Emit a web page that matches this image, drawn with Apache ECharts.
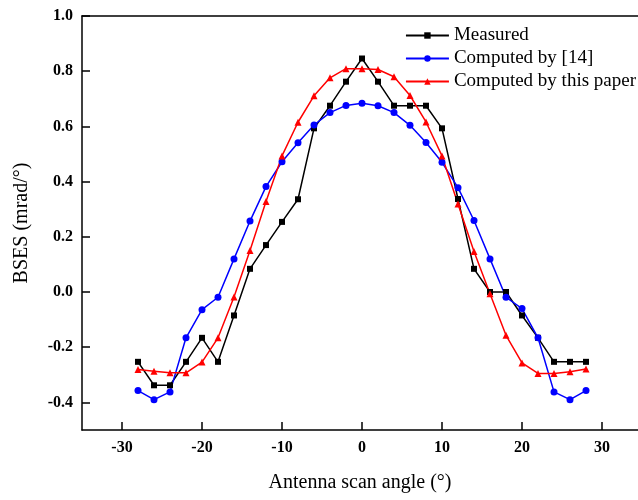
<!DOCTYPE html>
<html><head><meta charset="utf-8">
<script src="https://cdn.jsdelivr.net/npm/echarts@6/dist/echarts.min.js"></script>
<style>html,body{margin:0;padding:0;background:#fff}#c{width:638px;height:500px}</style>
</head><body><div id="c"></div>
<script>
const angles = [-28,-26,-24,-22,-20,-18,-16,-14,-12,-10,-8,-6,-4,-2,0,2,4,6,8,10,12,14,16,18,20,22,24,26,28];
const measured = [-0.253,-0.338,-0.338,-0.253,-0.166,-0.253,-0.085,0.084,0.170,0.254,0.336,0.593,0.675,0.762,0.846,0.762,0.675,0.675,0.675,0.593,0.337,0.084,0.0,0.0,-0.085,-0.166,-0.253,-0.253,-0.253];
const computed14 = [-0.357,-0.390,-0.362,-0.166,-0.064,-0.019,0.120,0.257,0.382,0.472,0.541,0.605,0.650,0.676,0.684,0.675,0.650,0.604,0.542,0.470,0.378,0.259,0.120,-0.019,-0.060,-0.166,-0.362,-0.390,-0.357];
const computedPaper = [-0.281,-0.287,-0.293,-0.293,-0.254,-0.166,-0.018,0.150,0.328,0.493,0.615,0.711,0.776,0.809,0.809,0.806,0.780,0.712,0.616,0.493,0.319,0.147,-0.006,-0.157,-0.257,-0.295,-0.295,-0.289,-0.279];
const xTicks = [-30,-20,-10,0,10,20,30];
const yTicks = [-0.4,-0.2,0.0,0.2,0.4,0.6,0.8,1.0];
const seriesNames = ['Measured','Computed by [14]','Computed by this paper'];

const serif = '"Liberation Serif","Times New Roman",serif';
const pair = arr => angles.map((a,i)=>[a,arr[i]]);
const chart = echarts.init(document.getElementById('c'));
const mk = (name, data, color, symbol, size) => ({
  name, type:'line', data: pair(data), symbol, symbolSize:size, xAxisIndex:0, yAxisIndex:0,
  lineStyle:{color, width:1.5}, itemStyle:{color}, animation:false
});
chart.setOption({
  animation:false,
  grid:{left:82, top:16, right:0, bottom:70, show:false},
  legend:{
    orient:'vertical', right:-3, top:21, itemWidth:43, itemHeight:8, itemGap:4,
    textStyle:{fontFamily:serif, fontSize:19, color:'#000'},
    data: seriesNames
  },
  xAxis:[{
    type:'value', min:-35, max:34.5, position:'bottom',
    name:'Antenna scan angle (°)', nameLocation:'middle', nameGap:43,
    nameTextStyle:{fontFamily:serif, fontSize:20, color:'#000'},
    axisLine:{show:true, onZero:true, onZeroAxisIndex:1, lineStyle:{color:'#000', width:1.5}},
    axisTick:{show:true, inside:true, length:8, customValues:xTicks, lineStyle:{color:'#000', width:1.5}},
    axisLabel:{customValues:xTicks, fontFamily:serif, fontWeight:'bold', fontSize:16, color:'#000', margin:10},
    splitLine:{show:false}
  },{
    type:'value', min:0, max:1, position:'top',
    axisLine:{show:true, onZero:false, lineStyle:{color:'#000', width:1.5}},
    axisTick:{show:false}, axisLabel:{show:false}, splitLine:{show:false}
  }],
  yAxis:[{
    type:'value', min:-0.5, max:1.0, position:'left',
    name:'BSES (mrad/°)', nameLocation:'middle', nameGap:50, nameRotate:90,
    nameTextStyle:{fontFamily:serif, fontSize:20, color:'#000'},
    axisLine:{show:true, onZero:true, onZeroAxisIndex:1, lineStyle:{color:'#000', width:1.5}},
    axisTick:{show:true, inside:true, length:8, customValues:yTicks, lineStyle:{color:'#000', width:1.5}},
    axisLabel:{customValues:yTicks, formatter:v=>v.toFixed(1), fontFamily:serif, fontWeight:'bold', fontSize:16, color:'#000', margin:9},
    splitLine:{show:false}
  },{
    type:'value', min:0, max:1, position:'right', show:false
  }],
  series:[
    mk(seriesNames[0], measured, '#000000', 'rect', 6),
    mk(seriesNames[1], computed14, '#0000ff', 'circle', 7),
    mk(seriesNames[2], computedPaper, '#ff0000', 'triangle', 7)
  ]
});
</script></body></html>
